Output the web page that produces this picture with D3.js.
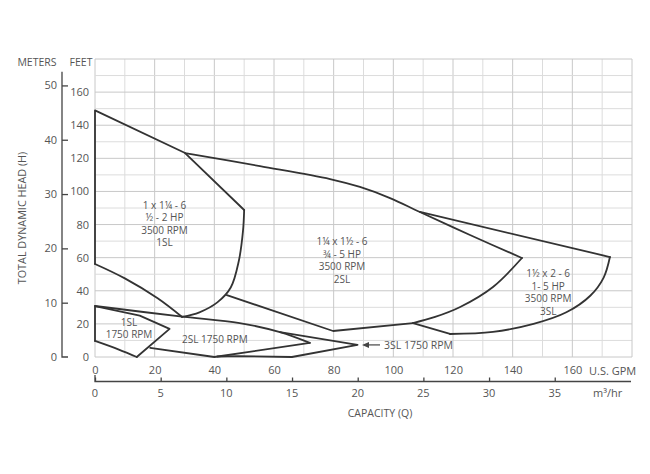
<!DOCTYPE html>
<html><head><meta charset="utf-8">
<script src="https://cdn.jsdelivr.net/npm/d3@7"></script>
<style>body{margin:0;background:#fff}</style>
</head><body>
<svg id="c" width="650" height="474"></svg>
<script>
// ---- data (x = U.S. GPM, y = feet) ----
const gpmTicks = [0,20,40,60,80,100,120,140,160];
const feetTicks = [0,20,40,60,80,100,120,140,160];
const meterTicks = [0,10,20,30,40,50];
const m3hrTicks = [0,5,10,15,20,25,30,35];

// 1 x 1¼ - 6, 3500 RPM (1SL)
const sl1_3500_top   = [[0,56.2],[0,149],[30.2,123.2],[50,88.8]];
const sl1_3500_right = [[50,88.8],[49.6,76],[48.2,58],[45.5,42],[41,33],[35,27],[29.2,24.2]];
const sl1_3500_bot   = [[29.2,24.2],[21,35.5],[10,47.5],[0,56.2]];
// 1¼ x 1½ - 6, 3500 RPM (2SL)
const sl2_3500_top   = [[30.2,123.2],[55.3,115.3],[78.8,107.5],[88.8,102.7],[98.9,96],[108.9,87.6],[125.7,73.7],[143.1,59.8]];
const sl2_3500_right = [[143.1,59.8],[133.4,42.3],[122.4,30.2],[114,24.2],[106.6,20.5]];
const sl2_3500_bot   = [[106.6,20.5],[79.8,15.7],[44.2,37.4]];
// 1½ x 2 - 6, 3500 RPM (3SL)
const sl3_3500_top   = [[108.9,87.6],[172.6,60.4]];
const sl3_3500_right = [[172.6,60.4],[170.5,48],[166,37],[158,27],[147,20],[133.4,15.2],[119,13.9]];
const sl3_3500_bot   = [[119,13.9],[106.6,20.5]];
// 1750 RPM regions
const sl1_1750 = [[0,9.7],[0,30.8],[15,25],[25,17],[14,0]];
const sl1_1750_bot = [[14,0],[8,4.5],[0,9.7]];
const sl2_1750top = [[0,30.8],[28.5,24.5],[48.5,20.5],[62,15],[72,8.5]];
const sl2_1750bot = [[72,8.5],[40,0],[18.5,5.5]];
const sl3_1750 = [[62,15],[88,7.3],[66,0],[48,0.5],[41,0.3]];

const labels = [
  {lines:["1 x 1¼ - 6","½ - 2 HP","3500 RPM","1SL"], x:23.3, y:89.4},
  {lines:["1¼ x 1½ - 6","¾ - 5 HP","3500 RPM","2SL"], x:82.8, y:67.6},
  {lines:["1½ x 2 - 6","1- 5 HP","3500 RPM","3SL"], x:151.9, y:48.3},
  {lines:["1SL","1750 RPM"], x:11.4, y:18.9},
  {lines:["2SL 1750 RPM"], x:40.2, y:8.5}
];

const svg = d3.select("#c");
const x = d3.scaleLinear().domain([0,180]).range([95,632]);
const y = d3.scaleLinear().domain([0,180]).range([357,59]);
const ym = d3.scaleLinear().domain([0,180/3.2808]).range([357,59]);
const xm = d3.scaleLinear().domain([0,180/4.4029]).range([95,632]);
const font = "'Open Sans', 'Noto Sans', sans-serif";
const txt = "#555";

// grid
const g = svg.append("g");
d3.range(0,181,10).forEach(v=>{
  g.append("line").attr("x1",x(v)).attr("x2",x(v)).attr("y1",y(0)).attr("y2",y(180))
   .attr("stroke", v%20===0?"#c8c8c8":"#dcdcdc").attr("stroke-width",1);
  g.append("line").attr("y1",y(v)).attr("y2",y(v)).attr("x1",x(0)).attr("x2",x(180))
   .attr("stroke", v%20===0?"#c8c8c8":"#dcdcdc").attr("stroke-width",1);
});

// feet labels
const fa = svg.append("g").attr("transform","translate(95,0)")
  .call(d3.axisLeft(y).tickValues(feetTicks).tickSize(0).tickPadding(6));
fa.select(".domain").remove();
fa.selectAll("text").attr("font-family",font).attr("font-size",11).attr("fill",txt);

// meters axis
const ma = svg.append("g").attr("transform","translate(62,0)")
  .call(d3.axisRight(ym).tickValues(meterTicks.slice(1)).tickSize(6).tickFormat(""));
ma.select(".domain").remove();
ma.selectAll("line").attr("stroke","#444").attr("stroke-width",1.3);
svg.append("path").attr("d",`M62,${ym(52.5)}V${ym(0)}H68`).attr("fill","none").attr("stroke","#444").attr("stroke-width",1.3);
svg.append("g").selectAll("text").data(meterTicks).join("text")
  .attr("x",57).attr("y",d=>ym(d)+4).attr("text-anchor","end")
  .attr("font-family",font).attr("font-size",11).attr("fill",txt).text(d=>d);

// GPM labels
const ga = svg.append("g").attr("transform","translate(0,357)")
  .call(d3.axisBottom(x).tickValues(gpmTicks).tickSize(0).tickPadding(9));
ga.select(".domain").remove();
ga.selectAll("text").attr("font-family",font).attr("font-size",11).attr("fill",txt);
svg.append("text").attr("x",589).attr("y",375).attr("font-family",font).attr("font-size",11).attr("fill",txt).text("U.S. GPM");

// m3/hr axis
const mxa = svg.append("g").attr("transform","translate(0,381.5)")
  .call(d3.axisTop(xm).tickValues(m3hrTicks).tickSize(4).tickFormat(""));
mxa.select(".domain").remove();
mxa.selectAll("line").attr("stroke","#444").attr("stroke-width",1.3);
svg.append("path").attr("d",`M95,375V381.5H631`).attr("fill","none").attr("stroke","#444").attr("stroke-width",1.3);
svg.append("g").selectAll("text").data(m3hrTicks).join("text")
  .attr("x",d=>xm(d)).attr("y",397).attr("text-anchor","middle")
  .attr("font-family",font).attr("font-size",11).attr("fill",txt).text(d=>d);
svg.append("text").attr("x",593).attr("y",397).attr("font-family",font).attr("font-size",11).attr("fill",txt).text("m³/hr");
svg.append("text").attr("x",380).attr("y",417).attr("text-anchor","middle").attr("font-family",font).attr("font-size",10.5).attr("fill",txt).text("CAPACITY (Q)");

// axis titles
svg.append("text").attr("x",37).attr("y",66).attr("text-anchor","middle").attr("font-family",font).attr("font-size",10.5).attr("fill",txt).text("METERS");
svg.append("text").attr("x",81).attr("y",66).attr("text-anchor","middle").attr("font-family",font).attr("font-size",10.5).attr("fill",txt).text("FEET");
svg.append("text").attr("transform","translate(26,218) rotate(-90)").attr("text-anchor","middle")
  .attr("font-family",font).attr("font-size",10.8).attr("fill",txt).text("TOTAL DYNAMIC HEAD (H)");

// curves
const lin = d3.line().x(d=>x(d[0])).y(d=>y(d[1]));
const smooth = d3.line().x(d=>x(d[0])).y(d=>y(d[1])).curve(d3.curveCatmullRom.alpha(0.5));
const stroke = "#333";
function draw(data, gen){
  svg.append("path").attr("d", gen(data)).attr("fill","none")
    .attr("stroke",stroke).attr("stroke-width",1.8).attr("stroke-linejoin","round").attr("stroke-linecap","round");
}
draw(sl1_3500_top,lin);
draw(sl1_3500_right,smooth);
draw(sl1_3500_bot,smooth);
draw(sl2_3500_top,smooth);
draw(sl2_3500_right,smooth);
draw(sl2_3500_bot,lin);
draw(sl3_3500_top,lin);
draw(sl3_3500_right,smooth);
draw(sl3_3500_bot,lin);
draw(sl1_1750,lin);
draw(sl1_1750_bot,smooth);
draw(sl2_1750top,smooth);
draw(sl2_1750bot,lin);
draw(sl3_1750,lin);

// labels
labels.forEach(l=>{
  l.lines.forEach((s,i)=>svg.append("text").attr("text-anchor","middle").attr("font-family",font)
    .attr("font-size",10).attr("fill",txt).attr("x",x(l.x)).attr("y",y(l.y)+i*12.5).text(s));
});
// 3SL 1750 arrow label
const ax0 = x(89.5), ay = y(7.3);
svg.append("line").attr("x1",ax0+18).attr("x2",ax0+3).attr("y1",ay).attr("y2",ay).attr("stroke","#444").attr("stroke-width",1.2);
svg.append("path").attr("d",`M${ax0},${ay}l7,-3v6z`).attr("fill","#444");
svg.append("text").attr("x",ax0+22).attr("y",ay+4).attr("font-family",font).attr("font-size",10.5).attr("fill",txt).text("3SL 1750 RPM");
</script>
</body></html>
